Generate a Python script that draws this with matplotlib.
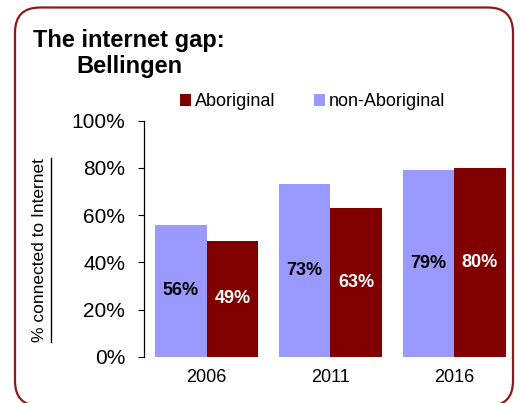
import matplotlib

matplotlib.use("Agg")

import matplotlib.pyplot as plt  # noqa: E402
import numpy as np  # noqa: E402
from matplotlib.lines import Line2D  # noqa: E402
from matplotlib.patches import FancyBboxPatch  # noqa: E402
from matplotlib.transforms import IdentityTransform  # noqa: E402

# ---------------------------------------------------------------------------
# Data
# ---------------------------------------------------------------------------
years = ["2006", "2011", "2016"]
non_aboriginal = [56, 73, 79]
aboriginal = [49, 63, 80]
y_ticks = [0, 20, 40, 60, 80, 100]

LIGHT = "#9999FF"
DARK = "#800000"
BORDER = "#8B1A1A"

plt.rcParams["font.family"] = ["Liberation Sans", "DejaVu Sans"]

W, H = 520, 403
fig = plt.figure(figsize=(W / 100, H / 100), dpi=100)
fig.patch.set_facecolor("white")

# axes placed in pixel terms, converted to figure fractions
ax = fig.add_axes([144.3 / W, 1 - 356.7 / H, (516 - 144.3) / W, 236 / H])

x = np.arange(len(years))
bw = 0.416
b_non = ax.bar(x - bw / 2, non_aboriginal, bw, color=LIGHT, label="non-Aboriginal")
b_abo = ax.bar(x + bw / 2, aboriginal, bw, color=DARK, label="Aboriginal")

# value labels, centred in each bar
for bars, col in ((b_non, "black"), (b_abo, "white")):
    for rect in bars:
        h = rect.get_height()
        ax.text(rect.get_x() + rect.get_width() / 2, h / 2, f"{h:.0f}%",
                ha="center", va="center", color=col,
                fontsize=13, fontweight="bold")

ax.set_xlim(-0.504, 2.5)
ax.set_ylim(0, 100)
ax.set_yticks(y_ticks)
ax.set_yticklabels([f"{t}%" for t in y_ticks])
ax.set_xticks(x)
ax.set_xticklabels(years)
ax.tick_params(axis="y", direction="out", length=4.3, width=0.8, pad=9.5, labelsize=15)
ax.tick_params(axis="x", length=0, pad=9, labelsize=13)
for s in ("top", "right", "bottom"):
    ax.spines[s].set_visible(False)
ax.spines["left"].set_linewidth(0.9)

ax.legend(handles=[b_abo, b_non], ncol=2, loc="center left",
          bbox_to_anchor=(180 / W, 1 - 102 / H), bbox_transform=fig.transFigure,
          frameon=False, fontsize=13, handlelength=0.6, handleheight=0.6,
          handletextpad=0.25, columnspacing=2.1, borderpad=0, borderaxespad=0)

# title, two lines with the second one indented
fig.text(33 / W, 1 - 47 / H, "The internet gap:", fontsize=17,
         fontweight="bold", va="baseline")
fig.text(76.7 / W, 1 - 73 / H, "Bellingen", fontsize=17,
         fontweight="bold", va="baseline")

# underlined y label
ylab = fig.text(40 / W, 1 - 250 / H, "% connected to Internet", fontsize=12.5,
                rotation=90, ha="center", va="center")
fig.canvas.draw()
bb = ylab.get_window_extent().transformed(fig.transFigure.inverted())
ux = bb.x1 + 3 / W
fig.add_artist(Line2D([ux, ux], [bb.y0, bb.y1], transform=fig.transFigure,
                      color="black", lw=1))

# rounded frame round the whole chart
frame = FancyBboxPatch((15, -3), 498, 398.5,
                       boxstyle="round,pad=0,rounding_size=25",
                       transform=IdentityTransform(), facecolor="none",
                       edgecolor=BORDER, lw=1.6)
fig.add_artist(frame)

fig.savefig("out.png", dpi=100, facecolor=fig.get_facecolor())
plt.close(fig)
